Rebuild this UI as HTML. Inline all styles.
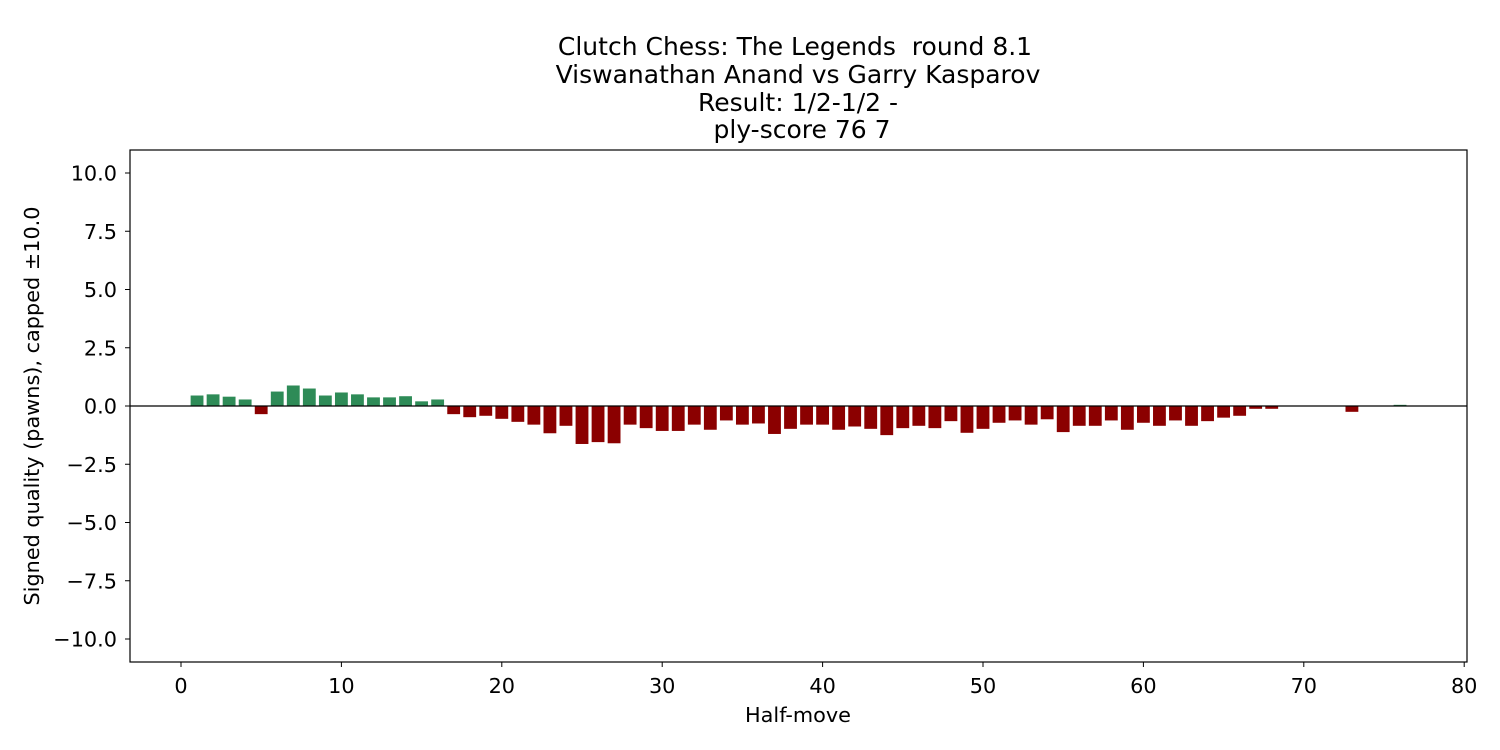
<!DOCTYPE html>
<html><head><meta charset="utf-8"><style>body{margin:0;background:#fff}svg{display:block;font-family:"DejaVu Sans","Liberation Sans",sans-serif}</style></head>
<body>
<svg id="chart" width="1500" height="750">
<g font-size="25" text-anchor="middle" fill="#000" style="white-space:pre">
<text x="795" y="55" xml:space="preserve">Clutch Chess: The Legends  round 8.1</text>
<text x="798" y="83">Viswanathan Anand vs Garry Kasparov</text>
<text x="798" y="111">Result: 1/2-1/2 -</text>
<text x="802" y="138">ply-score 76 7</text>
</g>
<g id="bars"></g>
<g id="axes"></g>
<text x="798" y="722" font-size="20.8" text-anchor="middle">Half-move</text>
<text transform="translate(39,406) rotate(-90)" font-size="20.8" text-anchor="middle">Signed quality (pawns), capped ±10.0</text>
</svg>
<script>
const plies=[];for(let i=1;i<=76;i++)plies.push(i);
const values=[0.45,0.5,0.4,0.28,-0.35,0.62,0.88,0.75,0.45,0.58,0.5,0.37,0.37,0.42,0.2,0.28,-0.35,-0.48,-0.42,-0.55,-0.68,-0.8,-1.17,-0.85,-1.63,-1.55,-1.6,-0.8,-0.95,-1.07,-1.07,-0.8,-1.02,-0.62,-0.8,-0.75,-1.2,-0.98,-0.8,-0.8,-1.02,-0.88,-0.98,-1.25,-0.95,-0.85,-0.95,-0.65,-1.15,-0.98,-0.72,-0.62,-0.8,-0.57,-1.12,-0.85,-0.85,-0.62,-1.02,-0.72,-0.85,-0.62,-0.85,-0.65,-0.5,-0.42,-0.12,-0.12,0,0,0,0,-0.25,0,0,0.05];
const xTicks=[0,10,20,30,40,50,60,70,80];
const yTicks=[-10,-7.5,-5,-2.5,0,2.5,5,7.5,10];
const L=130,R=1467,T=150,B=662;
const X=v=>181+v*16.04, Y=v=>406-v*23.3;
const NS='http://www.w3.org/2000/svg';
function mk(t,a,p){const e=document.createElementNS(NS,t);for(const k in a)e.setAttribute(k,a[k]);p.appendChild(e);return e;}
const bars=document.getElementById('bars'),axes=document.getElementById('axes');
plies.forEach((p,i)=>{const v=values[i];const y0=Y(Math.max(v,0)),y1=Y(Math.min(v,0));
const r=mk('rect',{x:X(p-0.4),y:y0,width:X(0.8)-X(0),height:y1-y0,fill:v>=0?'#2e8b57':'#8b0000'},bars);

});
const zl=mk('line',{x1:L,x2:R,y1:Y(0),y2:Y(0),stroke:'#000','stroke-width':1.2},axes);


const fr=mk('rect',{x:L,y:T,width:R-L,height:B-T,fill:'none',stroke:'#000','stroke-width':1.2},axes);


xTicks.forEach(t=>{mk('line',{x1:X(t),x2:X(t),y1:B,y2:B+5,stroke:'#000'},axes);
const tx=mk('text',{x:X(t),y:B+31,'font-size':20.8,'text-anchor':'middle'},axes);tx.textContent=t;

});
yTicks.forEach(t=>{mk('line',{x1:L-5,x2:L,y1:Y(t),y2:Y(t),stroke:'#000'},axes);
const tx=mk('text',{x:L-13,y:Y(t)+7.5,'font-size':20.8,'text-anchor':'end'},axes);tx.textContent=(t<0?'\u2212':'')+Math.abs(t).toFixed(1);

});
</script>
</body></html>
